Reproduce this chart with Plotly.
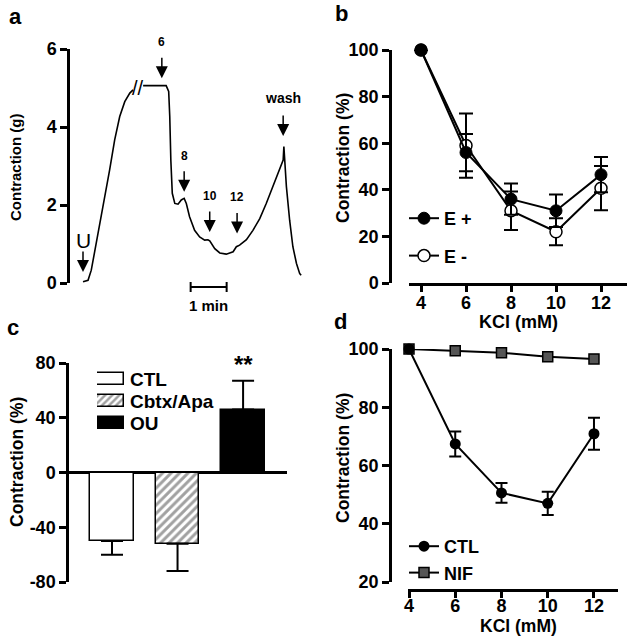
import plotly.graph_objects as go

FONT = "Liberation Sans, Arial, sans-serif"
W, H = 630, 640


def fx(p):
    return p / W


def fy(p):
    return 1 - p / H


# ---------------- data ----------------
# panel a: tension trace (time in min, force in g); None = axis break
a_time = [0.00, 0.14, 0.23, 0.37, 0.56, 0.74, 0.88, 1.02, 1.16, 1.30, 1.39, None,
          1.67, 2.31, 2.38, 2.41, 2.44, 2.48, 2.55, 2.64, 2.73, 2.81, 2.87, 2.96,
          3.10, 3.24, 3.38, 3.47, 3.52, 3.66, 3.80, 3.98, 4.17, 4.26, 4.35, 4.54,
          4.72, 4.91, 5.09, 5.28, 5.46, 5.56, 5.58, 5.61, 5.65, 5.74, 5.83, 5.93,
          6.02, 6.06]
a_force = [0.03, 0.07, 0.33, 1.01, 1.95, 2.90, 3.67, 4.27, 4.65, 4.87, 4.95, None,
           5.06, 5.06, 4.91, 4.27, 3.15, 2.30, 2.04, 2.02, 2.13, 2.17, 2.04, 1.70,
           1.35, 1.18, 1.10, 1.11, 1.08, 0.88, 0.77, 0.74, 0.80, 0.93, 0.97, 1.11,
           1.35, 1.65, 2.04, 2.47, 2.90, 3.15, 3.50, 3.07, 2.47, 1.61, 0.93, 0.50,
           0.24, 0.20]
a_events = ["U", "6", "8", "10", "12", "wash"]
a_event_time = [0.0, 2.19, 2.81, 3.52, 4.28, 5.56]
a_event_level = [0.28, 5.25, 2.34, 1.31, 1.27, 3.77]
a_yticks = [0, 2, 4, 6]

# panels b and d: KCl concentrations
kcl = [4, 6, 8, 10, 12]
b_e_plus = [100, 56, 36, 31, 46.5]
b_e_plus_err = [0, 8, 6.7, 7, 7.6]
b_e_minus = [100, 59, 31, 22, 40.7]
b_e_minus_err = [0, 13.8, 8.3, 5.8, 9.5]
b_yticks = [0, 20, 40, 60, 80, 100]

# panel c
c_groups = ["CTL", "Cbtx/Apa", "OU"]
c_values = [-50, -52, 46]
c_err = [10, 20, 21]
c_yticks = [-80, -40, 0, 40, 80]
c_yticktext = ["-80", "-40", "0", "40", "80"]

# panel d
d_ctl = [100, 67.4, 50.6, 47, 70.9]
d_ctl_err = [0, 4.3, 3.4, 4, 5.5]
d_nif = [100, 99.4, 98.7, 97.3, 96.6]
d_yticks = [20, 40, 60, 80, 100]

# ---------------- figure ----------------
fig = go.Figure()

# panel a trace
fig.add_trace(go.Scatter(x=a_time, y=a_force, mode="lines", connectgaps=False,
                         line=dict(color="black", width=1.6), showlegend=False,
                         xaxis="x", yaxis="y", cliponaxis=False))

# panel b
fig.add_trace(go.Scatter(x=kcl, y=b_e_minus, mode="lines+markers", name="E -",
                         line=dict(color="black", width=2),
                         marker=dict(symbol="circle", size=12, color="white",
                                     line=dict(color="black", width=1.5)),
                         error_y=dict(type="data", array=b_e_minus_err, color="black",
                                      thickness=2, width=7),
                         xaxis="x2", yaxis="y2", cliponaxis=False,
                         legend="legend", legendgroup="b2", legendrank=2))
fig.add_trace(go.Scatter(x=kcl, y=b_e_plus, mode="lines+markers", name="E +",
                         line=dict(color="black", width=2),
                         marker=dict(symbol="circle", size=12, color="black",
                                     line=dict(color="black", width=1)),
                         error_y=dict(type="data", array=b_e_plus_err, color="black",
                                      thickness=2, width=7),
                         xaxis="x2", yaxis="y2", cliponaxis=False,
                         legend="legend", legendgroup="b1", legendrank=1))

# panel c bars
c_up = [e if v > 0 else 0 for v, e in zip(c_values, c_err)]
c_down = [e if v < 0 else 0 for v, e in zip(c_values, c_err)]
c_fill = ["white", "white", "black"]
c_pattern = ["", "/", ""]
fig.add_trace(go.Bar(x=list(range(len(c_groups))), y=c_values, width=0.66,
                     marker=dict(color=c_fill, line=dict(color="black", width=1.5),
                                 pattern=dict(shape=c_pattern, fgcolor="black",
                                              fillmode="overlay", size=6, solidity=0.5)),
                     error_y=dict(type="data", symmetric=False, array=c_up,
                                  arrayminus=c_down, color="black", thickness=2, width=11),
                     showlegend=False, xaxis="x4", yaxis="y4", cliponaxis=False))
# panel c legend swatches
fig.add_trace(go.Bar(x=[1, 1, 1], y=c_groups, orientation="h", width=0.55,
                     marker=dict(color=c_fill, line=dict(color="black", width=1.5),
                                 pattern=dict(shape=c_pattern, fgcolor="black",
                                              fillmode="overlay", size=5, solidity=0.5)),
                     showlegend=False, hoverinfo="skip", xaxis="x5", yaxis="y5",
                     cliponaxis=False))

# panel d
fig.add_trace(go.Scatter(x=kcl, y=d_nif, mode="lines+markers", name="NIF",
                         line=dict(color="black", width=2),
                         marker=dict(symbol="square", size=10, color="#555555",
                                     line=dict(color="black", width=1.5)),
                         xaxis="x3", yaxis="y3", cliponaxis=False,
                         legend="legend2", legendgroup="d2", legendrank=2))
fig.add_trace(go.Scatter(x=kcl, y=d_ctl, mode="lines+markers", name="CTL",
                         line=dict(color="black", width=2),
                         marker=dict(symbol="circle", size=11, color="black"),
                         error_y=dict(type="data", array=d_ctl_err, color="black",
                                      thickness=2, width=6),
                         xaxis="x3", yaxis="y3", cliponaxis=False,
                         legend="legend2", legendgroup="d1", legendrank=1))

tickfont = dict(family=FONT, size=18, color="black", weight="bold")
axis_common = dict(showgrid=False, zeroline=False, showline=True, linecolor="black",
                   linewidth=2.5, ticks="outside", tickcolor="black", tickwidth=2.5,
                   tickfont=tickfont, automargin=False)
hidden = dict(visible=True, showgrid=False, zeroline=False, showline=False,
              showticklabels=False, ticks="", fixedrange=True, automargin=False)

fig.update_layout(
    template="none",
    width=W, height=H, margin=dict(l=0, r=0, t=0, b=0, pad=0, autoexpand=False),
    paper_bgcolor="white", plot_bgcolor="rgba(0,0,0,0)",
    font=dict(family=FONT, color="black"),
    bargap=0,
    # panel a
    xaxis=dict(domain=[fx(60), fx(312)], range=[(60 - 83) / 36, (312 - 83) / 36], **hidden),
    yaxis=dict(domain=[fy(283), fy(49)], range=[0, 6], anchor="free", position=fx(68),
               tickvals=a_yticks, ticklen=7, **axis_common),
    # panel b
    xaxis2=dict(domain=[fx(409), fx(627)], range=[4 - 12 / 22.5, 12 + 26 / 22.5],
                anchor="y2", tickvals=kcl, ticklen=6, ticklabelstandoff=-4, **axis_common),
    yaxis2=dict(domain=[fy(283), fy(50)], range=[0, 100], anchor="free", position=fx(390),
                tickvals=b_yticks, ticklen=7, **axis_common),
    # panel d
    xaxis3=dict(domain=[fx(408), fx(618)], range=[4 - 1 / 23.1, 12 + 24 / 23.1],
                anchor="free", position=fy(590), tickvals=kcl, ticklen=6,
                ticklabelstandoff=-7, **axis_common),
    yaxis3=dict(domain=[fy(582), fy(349)], range=[20, 100], anchor="free", position=fx(390),
                tickvals=d_yticks, ticklen=7, **axis_common),
    # panel c
    xaxis4=dict(domain=[fx(69), fx(287)], range=[-0.656, 2.67], anchor="y4", **hidden),
    yaxis4=dict(domain=[fy(582), fy(363)], range=[-80, 80], anchor="x4",
                tickvals=c_yticks, ticktext=c_yticktext, ticklen=7,
                showgrid=False, showline=True, linecolor="black", linewidth=2.5,
                ticks="outside", tickcolor="black", tickwidth=2.5, tickfont=tickfont,
                zeroline=True, zerolinecolor="black", zerolinewidth=2.5, automargin=False),
    # panel c legend swatches
    xaxis5=dict(domain=[fx(97), fx(124)], range=[0, 1], anchor="y5", **hidden),
    yaxis5=dict(domain=[fy(434), fy(368)], type="category", categoryorder="array",
                categoryarray=c_groups, range=[2.5, -0.5], anchor="x5", **hidden),
    legend=dict(x=fx(404), y=fy(200), xanchor="left", yanchor="top",
                font=dict(family=FONT, size=18, color="black", weight="bold"),
                bgcolor="rgba(0,0,0,0)", tracegroupgap=11, itemwidth=30,
                traceorder="grouped"),
    legend2=dict(x=fx(404), y=fy(528), xanchor="left", yanchor="top",
                 font=dict(family=FONT, size=18, color="black", weight="bold"),
                 bgcolor="rgba(0,0,0,0)", tracegroupgap=0, itemwidth=30,
                 traceorder="grouped"),
)

ann = []
# panel letters
for letter, (px, py) in zip(["a", "b", "c", "d"], [(15, 16), (341, 14), (13, 327), (340, 321)]):
    ann.append(dict(text=letter, x=fx(px), y=fy(py), xref="paper", yref="paper",
                    showarrow=False, xanchor="center", yanchor="middle",
                    font=dict(family=FONT, size=22, color="black", weight="bold")))
# y titles
for txt, px, py, size in [("Contraction (g)", 16, 168, 15), ("Contraction (%)", 343, 158, 17.5),
                          ("Contraction (%)", 17, 462, 17.5), ("Contraction (%)", 343, 458, 17.5)]:
    ann.append(dict(text=txt, x=fx(px), y=fy(py), xref="paper", yref="paper", textangle=-90,
                    showarrow=False, xanchor="center", yanchor="middle",
                    font=dict(family=FONT, size=size, color="black", weight="bold")))
# x titles
for px, py, size in [(518, 322, 18), (518, 626, 17.5)]:
    ann.append(dict(text="KCl (mM)", x=fx(px), y=fy(py), xref="paper", yref="paper",
                    showarrow=False, xanchor="center", yanchor="middle",
                    font=dict(family=FONT, size=size, color="black", weight="bold")))
# panel a event arrows and labels
for name, t, v in zip(a_events, a_event_time, a_event_level):
    ann.append(dict(x=t, y=v, xref="x", yref="y", text="", showarrow=True, arrowhead=2,
                    arrowsize=1.6, arrowwidth=1.5, arrowcolor="black", ax=0, ay=-22))
    if name == "U":
        f = dict(family=FONT, size=21, color="black")
        shift = 32
    else:
        f = dict(family=FONT, size=14 if name == "wash" else 12, color="black", weight="bold")
        shift = 38 if name == "wash" else 36
    ann.append(dict(x=t, y=v, xref="x", yref="y", text=name, showarrow=False,
                    yshift=shift, xanchor="center", yanchor="middle", font=f))
# axis break mark
ann.append(dict(x=1.53, y=5.0, xref="x", yref="y", text="//", showarrow=False,
                font=dict(family=FONT, size=20, color="black")))
# scale bar label
ann.append(dict(x=3.49, y=fy(305), xref="x", yref="paper", text="1 min", showarrow=False,
                font=dict(family=FONT, size=15, color="black", weight="bold")))
# ** significance
ann.append(dict(x=2, y=c_values[2] + c_err[2], xref="x4", yref="y4", text="**",
                showarrow=False, yshift=16, yanchor="middle",
                font=dict(family=FONT, size=24, color="black", weight="bold")))
# panel c legend text
for g in c_groups:
    ann.append(dict(x=1, y=g, xref="x5", yref="y5", text=g, showarrow=False,
                    xanchor="left", yanchor="middle", xshift=4,
                    font=dict(family=FONT, size=19, color="black", weight="bold")))
fig.update_layout(annotations=ann)

# scale bar (1 min)
fig.add_shape(type="line", xref="x", yref="paper", x0=2.99, x1=3.99, y0=fy(287), y1=fy(287),
              line=dict(color="black", width=2))
for xs in (2.99, 3.99):
    fig.add_shape(type="line", xref="x", yref="paper", x0=xs, x1=xs, y0=fy(282), y1=fy(292),
                  line=dict(color="black", width=2))

fig.write_html("out.html", config={"displayModeBar": False},
               post_script="document.body.style.margin='0';")
